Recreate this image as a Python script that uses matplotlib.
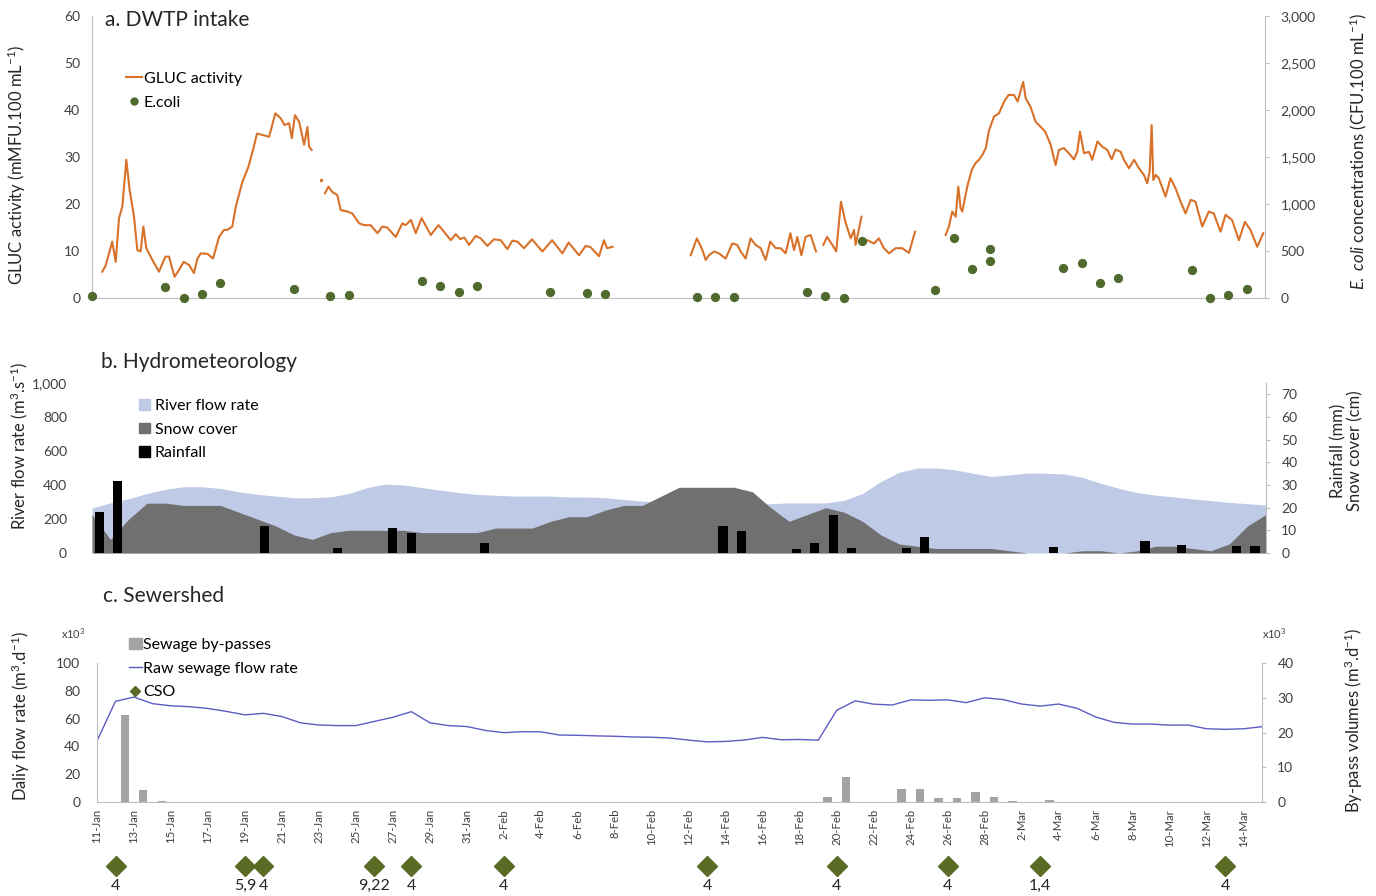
import numpy as np
import pandas as pd
import matplotlib
matplotlib.use("Agg")
import matplotlib.pyplot as plt
import matplotlib.transforms as mtransforms
from matplotlib.lines import Line2D
from matplotlib.patches import Patch
from matplotlib.ticker import FuncFormatter, MultipleLocator

plt.rcParams["font.family"] = ["Lato", "DejaVu Sans"]
plt.rcParams["mathtext.fontset"] = "custom"
plt.rcParams["mathtext.rm"] = "Lato"
plt.rcParams["mathtext.it"] = "Lato:italic"
plt.rcParams["mathtext.bf"] = "Lato:bold"

START = pd.Timestamp("2015-01-11")

# ---- a. DWTP intake: GLUC activity (days since 11-Jan, mMFU/100 mL), four runs
gluc1_t = [0.56, 0.75, 1.1, 1.29, 1.47, 1.65, 1.87, 2.05, 2.29, 2.47, 2.65, 2.8, 2.96,
           3.29, 3.65, 4.0, 4.2, 4.5, 4.75, 5.0, 5.3, 5.56, 5.75, 5.93, 6.3, 6.6, 6.93,
           7.2, 7.38, 7.65, 7.84, 8.2, 8.53, 8.78, 9.0, 9.3, 9.66, 10.0, 10.3, 10.5,
           10.75, 10.9, 11.07, 11.3, 11.57, 11.75, 11.84, 11.98]
gluc1_v = [5.6, 7.0, 12.0, 7.7, 17.0, 19.4, 29.4, 23.0, 17.3, 10.2, 9.9, 15.2, 10.6,
           8.1, 5.6, 8.8, 8.8, 4.5, 6.0, 7.7, 7.0, 5.3, 8.4, 9.5, 9.4, 8.4, 13.0,
           14.5, 14.5, 15.2, 19.4, 24.7, 27.9, 31.5, 35.0, 34.7, 34.3, 39.3, 38.2, 36.8,
           37.2, 34.0, 38.9, 37.5, 32.6, 36.4, 32.2, 31.5]
gluc_dot_t = [12.48]
gluc_dot_v = [25.1]
gluc2_t = [12.71, 12.9, 13.1, 13.38, 13.57, 13.93, 14.2, 14.57, 14.84, 15.2, 15.57,
           15.84, 16.1, 16.57, 16.93, 17.1, 17.4, 17.66, 17.98, 18.48, 18.9, 19.2,
           19.57, 19.84, 20.1, 20.3, 20.57, 20.93, 21.2, 21.57, 21.93, 22.3, 22.66,
           22.93, 23.2, 23.57, 24.0, 24.57, 25.1, 25.66, 26.0, 26.57, 26.93, 27.2,
           27.66, 27.93, 28.1, 28.4]
gluc2_v = [22.3, 23.7, 22.6, 21.9, 18.7, 18.4, 18.0, 15.9, 15.5, 15.5, 13.8,
           15.2, 15.0, 13.0, 15.9, 15.5, 16.6, 13.8, 17.0, 13.4, 15.5, 14.1,
           12.3, 13.6, 12.5, 12.9, 11.3, 13.2, 12.7, 11.1, 12.5, 12.3, 10.4,
           12.2, 12.0, 10.6, 12.5, 9.9, 12.3, 9.5, 11.8, 9.1, 11.1, 10.8,
           8.9, 12.3, 10.6, 10.9]
gluc3_t = [32.66, 33.0, 33.3, 33.48, 33.66, 33.93, 34.2, 34.57, 34.93, 35.2, 35.39,
           35.66, 35.93, 36.2, 36.48, 36.75, 37.0, 37.3, 37.57, 37.84, 38.1, 38.3,
           38.48, 38.7, 38.93, 39.2, 39.5, np.nan, 39.9, 40.1, 40.39, 40.6, 40.86,
           41.1, 41.39, 41.57, 41.66, 41.98, np.nan, 42.3, 42.66, 42.93, 43.2, 43.48,
           43.84, 44.2, 44.57, 44.9]
gluc3_v = [9.1, 12.7, 10.2, 8.1, 9.1, 9.9, 9.5, 8.4, 11.6, 11.3, 9.9,
           8.4, 12.7, 11.3, 10.6, 8.1, 12.0, 10.6, 10.6, 9.5, 13.8, 10.2,
           13.0, 9.1, 13.0, 13.4, 9.9, np.nan, 11.3, 13.0, 11.3, 9.9, 20.5,
           16.2, 12.7, 14.5, 11.3, 17.3, np.nan, 12.3, 11.6, 12.7, 10.6, 9.5,
           10.6, 10.6, 9.6, 14.1]
gluc4_t = [46.57, 46.75, 46.93, 47.12, 47.26, 47.39, 47.48, 47.75, 47.99, 48.2, 48.39,
           48.57, 48.76, 48.94, 49.21, 49.48, 49.76, 50.0, 50.3, 50.5, 50.8, 50.94,
           51.2, 51.48, 51.76, 52.0, 52.3, 52.57, 52.75, 53.02, 53.3, 53.57, 53.75,
           53.9, 54.12, 54.39, 54.57, 54.85, 55.12, 55.39, 55.63, 55.84, 56.12, 56.3,
           56.57, 56.85, 57.12, 57.39, 57.57, 57.7, 57.81, 57.9, 58.03, 58.2, 58.57,
           58.84, 59.12, 59.39, 59.66, 59.94, 60.2, 60.57, 60.93, 61.2, 61.57, 61.84,
           62.2, 62.57, 62.9, 63.2, 63.57, 63.9]
gluc4_v = [13.4, 15.2, 18.4, 17.3, 23.7, 19.1, 18.4, 23.7, 27.2, 28.7, 29.4,
           30.4, 31.9, 35.7, 38.6, 39.3, 41.8, 43.2, 43.2, 41.8, 46.0, 42.5,
           40.7, 37.5, 36.4, 35.4, 32.6, 28.3, 31.5, 31.9, 30.8, 29.5, 31.1,
           35.4, 30.8, 31.1, 29.4, 33.3, 32.2, 31.5, 29.5, 31.6, 31.1, 29.4,
           27.6, 29.4, 27.6, 26.2, 24.4, 26.9, 36.8, 25.1, 26.2, 25.5, 21.6,
           25.5, 23.3, 20.5, 18.0, 20.9, 20.5, 15.2, 18.4, 18.0, 14.1, 17.7,
           16.6, 12.3, 16.2, 14.5, 10.9, 13.8]

# E. coli (CFU/100 mL)
ecoli_day = [0, 4, 5, 6, 7, 11, 13, 14, 18, 19, 20, 21, 25, 27, 28, 33, 34, 35,
             39, 40, 41, 42, 46, 47, 48, 49, 49, 53, 54, 55, 56, 60, 61, 62, 63]
ecoli_val = [20, 120, 5, 45, 160, 95, 25, 30, 180, 130, 65, 130, 65, 50, 45, 10, 10, 10,
             65, 20, 5, 610, 85, 640, 310, 520, 395, 320, 370, 160, 215, 300, 5, 35, 100]

# ---- b. Hydrometeorology (daily)
river_flow = [265, 295, 320, 350, 375, 390, 390, 380, 360, 345, 335, 325, 325, 330,
              350, 385, 405, 400, 385, 370, 355, 345, 340, 335, 335, 335, 330, 330,
              325, 315, 305, 300, 300, 295, 290, 285, 285, 290, 295, 295, 295, 310,
              350, 420, 475, 500, 500, 490, 470, 450, 460, 470, 470, 465, 445, 410,
              380, 355, 340, 330, 318, 308, 298, 290, 282]
snow_cover = [17, 6, 15, 22, 22, 21, 21, 21, 18, 15, 12, 8, 6, 9, 10, 10, 10, 10,
              9, 9, 9, 9, 11, 11, 11, 14, 16, 16, 19, 21, 21, 25, 29, 29, 29, 29,
              27, 20, 14, 17, 20, 18, 14, 8, 4, 3, 2, 2, 2, 2, 1, 0, 0, 0, 1, 1,
              0, 1, 3, 3, 2, 1, 4, 12, 17]
rain_day = [0, 1, 9, 13, 16, 17, 21, 34, 35, 38, 39, 40, 41, 44, 45, 52, 57, 59, 62, 63]
rain_mm = [18, 31.7, 12, 2, 11, 9, 4.4, 12, 9.7, 1.8, 4.4, 16.8, 2.2, 2.2, 7,
           2.6, 5.3, 3.5, 3.1, 3.1]

# ---- c. Sewershed (x10^3 m3/d)
raw_sewage = [44, 72.5, 75.5, 70.8, 69.2, 68.6, 67.3, 65.2, 62.7, 63.8, 61.5, 57,
              55.4, 55, 55, 58, 61, 65, 57, 55, 54.3, 51.5, 49.9, 50.6, 50.5, 48.2,
              48, 47.6, 47.3, 46.8, 46.6, 46, 44.5, 43.3, 43.6, 44.6, 46.5, 44.8,
              45, 44.5, 66, 72.8, 70.4, 69.8, 73.5, 73.2, 73.5, 71.5, 75, 73.7,
              70.5, 69, 70.5, 67.4, 61.2, 57.3, 56.1, 56.1, 55.3, 55.4, 52.7, 52.3,
              52.7, 54.2]
bypass_day = [1, 2, 3, 39, 40, 43, 44, 45, 46, 47, 48, 49, 51]
bypass_vol = [25.0, 3.4, 0.3, 1.3, 7.2, 3.7, 3.7, 1.1, 1.1, 2.9, 1.5, 0.2, 0.6]
cso_day = [1, 8, 9, 15, 17, 22, 33, 40, 46, 51, 61]
cso_sites = ["4", "5,9", "4", "9,22", "4", "4", "4", "4", "4", "1,4", "4"]

ORANGE = "#D8712A"
GREEN = "#4E6A2C"
OLIVE = "#5A6B26"
BLUE_FILL = "#BFCAE6"
SNOW = "#707070"
BYPASS = "#A3A3A3"
SEWAGE = "#5C5CC4"
SPINE = "#BFBFBF"
TXT = "#262626"
TICK = "#404040"
LABEL_FS = 12
TICK_FS = 10
LEGEND_FS = 11.5
TITLE_FS = 15

thousands = FuncFormatter(lambda v, p: f"{v:,.0f}")

fig = plt.figure(figsize=(13.76, 8.96), dpi=100)


def style_left(ax, spine=True, pad=8.5):
    for s in ("top", "right"):
        ax.spines[s].set_visible(False)
    ax.spines["left"].set_visible(spine)
    ax.spines["left"].set_color(SPINE)
    ax.spines["bottom"].set_color(SPINE)
    ax.tick_params(axis="y", length=0, labelsize=TICK_FS, labelcolor=TICK, pad=pad)
    ax.tick_params(axis="x", length=0)


def style_right(ax):
    for s in ("top", "left", "bottom"):
        ax.spines[s].set_visible(False)
    ax.spines["right"].set_color(SPINE)
    ax.tick_params(axis="y", direction="out", length=3, color=SPINE,
                   labelsize=TICK_FS, labelcolor=TICK, pad=8)


# ---------------- a. DWTP intake ----------------
ax_a = fig.add_axes([0.0669, 0.6674, 0.8525, 0.3147])
ax_a2 = ax_a.twinx()
for t, v in ((gluc1_t, gluc1_v), (gluc2_t, gluc2_v), (gluc3_t, gluc3_v), (gluc4_t, gluc4_v)):
    ax_a.plot(t, v, color=ORANGE, lw=1.5)
ax_a.plot(gluc_dot_t, gluc_dot_v, "o", color=ORANGE, ms=1.5)
ax_a2.scatter(ecoli_day, ecoli_val, s=32, color=GREEN, zorder=3, clip_on=False)
ax_a.set_xlim(0, 64)
ax_a.set_ylim(0, 60)
ax_a2.set_ylim(0, 3000)
ax_a.yaxis.set_major_locator(MultipleLocator(10))
ax_a2.yaxis.set_major_locator(MultipleLocator(500))
ax_a2.yaxis.set_major_formatter(thousands)
ax_a.set_xticks([])
style_left(ax_a)
style_right(ax_a2)
ax_a.set_ylabel("GLUC activity (mMFU.100 mL$^{-1}$)", fontsize=LABEL_FS, color=TXT)
ax_a.yaxis.set_label_coords(-0.0546, 0.47)
ax_a2.set_ylabel("$\\it{E.\\ coli}$ concentrations (CFU.100 mL$^{-1}$)", fontsize=LABEL_FS,
                 color=TXT)
ax_a2.yaxis.set_label_coords(1.070, 0.52)
ax_a.text(0.011, 0.986, "a. DWTP intake", transform=ax_a.transAxes, fontsize=TITLE_FS,
          color=TXT, va="center", ha="left")
ax_a.legend(handles=[Line2D([], [], color=ORANGE, lw=1.5, label="GLUC activity"),
                     Line2D([], [], ls="", marker="o", ms=5, color=GREEN, label="E.coli")],
            loc="upper left", bbox_to_anchor=(0.086, 0.929), bbox_transform=fig.transFigure,
            frameon=False, fontsize=LEGEND_FS, handlelength=1.0, handletextpad=0.1,
            borderpad=0, labelspacing=0.6)

# ---------------- b. Hydrometeorology ----------------
ax_b = fig.add_axes([0.0669, 0.3828, 0.8532, 0.1897])
ax_b2 = ax_b.twinx()
days_b = np.arange(len(river_flow))
ax_b.fill_between(days_b, river_flow, color=BLUE_FILL, lw=0)
ax_b2.fill_between(np.arange(len(snow_cover)), snow_cover, color=SNOW, lw=0)
ax_b2.bar(np.array(rain_day) + 0.4, rain_mm, width=0.5, color="black")
ax_b.set_xlim(0, 64)
ax_b.set_ylim(0, 1000)
ax_b2.set_ylim(0, 75)
ax_b.yaxis.set_major_locator(MultipleLocator(200))
ax_b.yaxis.set_major_formatter(thousands)
ax_b2.yaxis.set_major_locator(MultipleLocator(10))
ax_b.set_xticks([])
style_left(ax_b, spine=False, pad=18)
ax_b.spines["bottom"].set_visible(False)
style_right(ax_b2)
ax_b.set_ylabel("River flow rate (m$^{3}$.s$^{-1}$)", fontsize=LABEL_FS, color=TXT)
ax_b.yaxis.set_label_coords(-0.0528, 0.63)
ax_b2.set_ylabel("Rainfall (mm)\nSnow cover (cm)", fontsize=LABEL_FS, color=TXT,
                 linespacing=1.05)
ax_b2.yaxis.set_label_coords(1.0545, 0.6)
ax_b.text(0.008, 1.124, "b. Hydrometeorology", transform=ax_b.transAxes, fontsize=TITLE_FS,
          color=TXT, va="center", ha="left")
ax_b.legend(handles=[Patch(color=BLUE_FILL, label="River flow rate"),
                     Patch(color=SNOW, label="Snow cover"),
                     Patch(color="black", label="Rainfall")],
            loc="upper left", bbox_to_anchor=(0.0955, 0.5635), bbox_transform=fig.transFigure,
            frameon=False, fontsize=LEGEND_FS, handlelength=0.65, handleheight=0.65,
            handletextpad=0.3, borderpad=0, labelspacing=0.6)

# ---------------- c. Sewershed ----------------
ax_c = fig.add_axes([0.0705, 0.1049, 0.8467, 0.1551])
ax_c2 = ax_c.twinx()
ax_c2.bar(np.array(bypass_day) + 0.5, bypass_vol, width=0.45, color=BYPASS, zorder=1)
ax_c.plot(np.arange(len(raw_sewage)), raw_sewage, color=SEWAGE, lw=1.0)
ax_c.set_zorder(ax_c2.get_zorder() + 1)
ax_c.patch.set_visible(False)
ax_c.set_xlim(0, 63)
ax_c.set_ylim(0, 100)
ax_c2.set_ylim(0, 40)
ax_c.yaxis.set_major_locator(MultipleLocator(20))
ax_c2.yaxis.set_major_locator(MultipleLocator(10))
tick_days = np.arange(0, 63, 2)
ax_c.set_xticks(tick_days)
ax_c.set_xticklabels([(START + pd.Timedelta(days=int(d))).strftime("%-d-%b") for d in tick_days],
                     rotation=90, fontsize=8.2, color=TICK)
style_left(ax_c, pad=12)
ax_c.tick_params(axis="x", length=0, pad=5)
style_right(ax_c2)
ax_c.set_ylabel("Daliy flow rate (m$^{3}$.d$^{-1}$)", fontsize=LABEL_FS, color=TXT)
ax_c.yaxis.set_label_coords(-0.0558, 0.62)
ax_c2.set_ylabel("By-pass volumes (m$^{3}$.d$^{-1}$)", fontsize=LABEL_FS, color=TXT)
ax_c2.yaxis.set_label_coords(1.0695, 0.59)
ax_c.text(0.005, 1.482, "c. Sewershed", transform=ax_c.transAxes, fontsize=TITLE_FS,
          color=TXT, va="center", ha="left")
ax_c.text(-0.010, 1.21, "x10$^{3}$", transform=ax_c.transAxes, fontsize=8,
          color=TICK, ha="right", va="center")
ax_c.text(1.0, 1.21, "x10$^{3}$", transform=ax_c.transAxes, fontsize=8,
          color=TICK, ha="left", va="center")
ax_c.legend(handles=[Patch(color=BYPASS, label="Sewage by-passes"),
                     Line2D([], [], color=SEWAGE, lw=1.0, label="Raw sewage flow rate"),
                     Line2D([], [], ls="", marker="D", ms=5, color=OLIVE, label="CSO")],
            loc="upper left", bbox_to_anchor=(0.088, 0.2965), bbox_transform=fig.transFigure,
            frameon=False, fontsize=LEGEND_FS, handlelength=0.8, handleheight=0.65,
            handletextpad=0.1, borderpad=0, labelspacing=0.6)

# CSO events below the date axis
cso_tr = mtransforms.blended_transform_factory(ax_c.transData, ax_c.transAxes)
ax_c.plot(cso_day, [-0.46] * len(cso_day), ls="", marker="D", ms=10, color=OLIVE,
          transform=cso_tr, clip_on=False)
for d, s in zip(cso_day, cso_sites):
    ax_c.text(d, -0.605, s, transform=cso_tr, fontsize=11.5, color=TXT,
              ha="center", va="center")

fig.savefig("out.png", dpi=100, facecolor="white")
